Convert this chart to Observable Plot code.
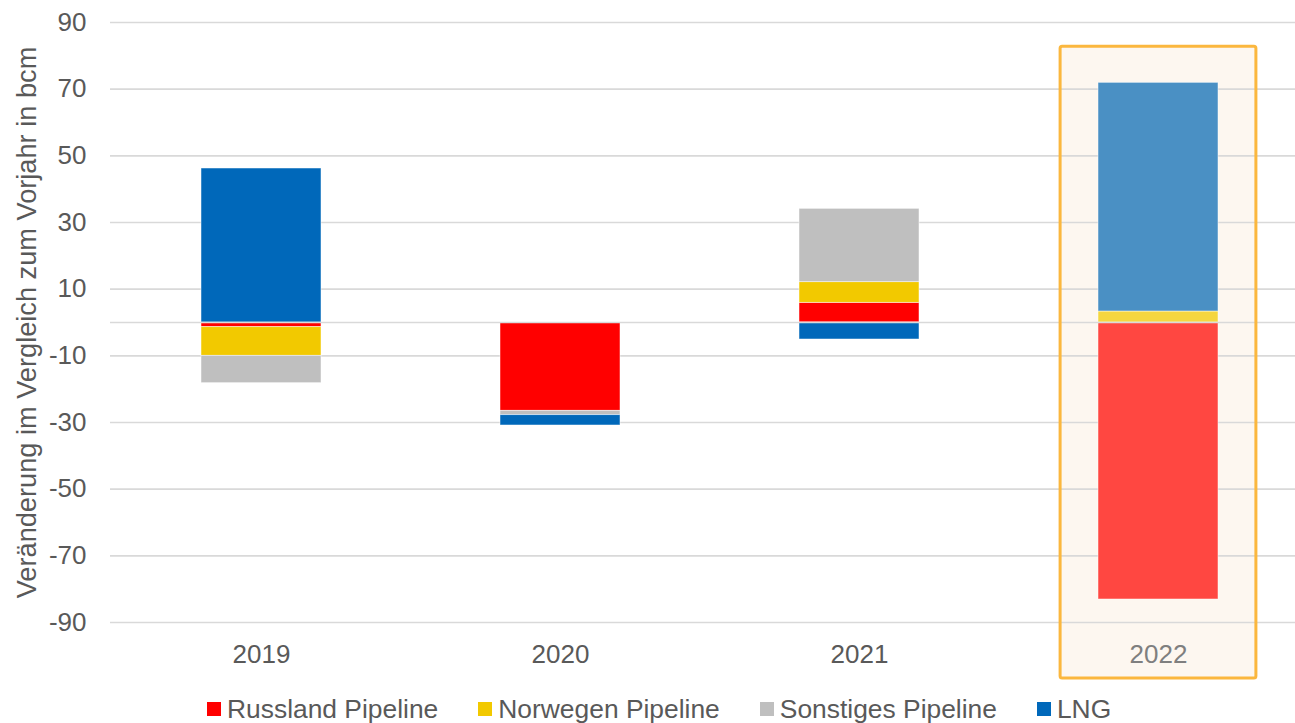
<!DOCTYPE html>
<html>
<head>
<meta charset="utf-8">
<script src="https://cdn.jsdelivr.net/npm/d3@7"></script>
<script src="https://cdn.jsdelivr.net/npm/@observablehq/plot@0.6"></script>
<style>
  html, body { margin: 0; padding: 0; background: #ffffff; overflow: hidden; }
  #chart { position: relative; width: 1295px; height: 723px; font-family: "Liberation Sans", Arial, sans-serif; }
  #legend { position: absolute; left: 207px; top: 694px; display: flex; align-items: center; height: 30px;
            font-size: 26.4px; color: #595959; white-space: nowrap; }
  #legend .item { display: flex; align-items: center; margin-right: 40px; }
  #legend .sw { width: 14px; height: 14px; margin-right: 6px; }
</style>
</head>
<body>
<div id="chart"></div>
<script>
// Year-on-year change of gas imports by source, in bcm
const years = ["2019", "2020", "2021", "2022"];
const seriesNames = ["Russland Pipeline", "Norwegen Pipeline", "Sonstiges Pipeline", "LNG"];
const russland = [-1.4, -26.5, 5.9, -83.1];
const norwegen = [-8.6, 0, 6.2, 3.3];
const sonstiges = [-8.2, -1.3, 22.0, 0];
const lng = [46.2, -3.1, -5.1, 68.6];
const yTicks = [90, 70, 50, 30, 10, -10, -30, -50, -70, -90];
const highlightYear = "2022";

const baseColors = ["#FF0000", "#F2C900", "#BFBFBF", "#0068BA"];
const lightColors = ["#FF4741", "#F5D63F", "#D9D9D9", "#4A90C4"];

const valuesBySeries = [russland, norwegen, sonstiges, lng];
const rows = [];
seriesNames.forEach((s, i) => {
  years.forEach((y, j) => {
    rows.push({year: y, series: s, value: valuesBySeries[i][j], si: i});
  });
});

const textColor = "#595959";
const gridColor = "#D9D9D9";

const plot = Plot.plot({
  width: 1295,
  height: 690,
  marginLeft: 110,
  marginRight: 0,
  marginTop: 22,
  marginBottom: 68,
  style: {fontSize: "26px", fontFamily: "'Liberation Sans', Arial, sans-serif", color: textColor, background: "white"},
  x: {type: "band", domain: years, range: [110, 1308], paddingInner: 0.6, paddingOuter: 0.3, align: 0.5},
  y: {domain: [-90, 90], range: [622, 22]},
  color: {type: "identity"},
  marks: [
    // highlight panel behind the latest year
    Plot.barY([{year: highlightYear}], {x: "year", y1: 82.7, y2: -106.8, insetLeft: -37.9, insetRight: -37.9, fill: "#FDF7F0"}),
    Plot.gridY(yTicks, {stroke: gridColor, strokeOpacity: 1, strokeWidth: 1.6}),
    Plot.barY(rows, Plot.stackY({
      x: "year",
      y: "value",
      z: "series",
      fill: d => (d.year === highlightYear ? lightColors : baseColors)[d.si],
      stroke: "white",
      strokeOpacity: 0.6,
      strokeWidth: 0.8
    })),
    Plot.ruleY([0], {stroke: gridColor, strokeWidth: 1.6}),
    Plot.barY([{year: highlightYear}], {x: "year", y1: 82.7, y2: -106.8, insetLeft: -37.9, insetRight: -37.9,
      fill: "none", stroke: "#FBB73E", strokeWidth: 3, rx: 2}),
    Plot.axisY(yTicks, {tickSize: 0, tickPadding: 24, fill: textColor, label: null, tickFormat: d => String(d)}),
    Plot.axisX(years.filter(y => y !== highlightYear), {tickSize: 0, tickPadding: 22, fill: textColor, label: null}),
    Plot.axisX([highlightYear], {tickSize: 0, tickPadding: 22, fill: "#7F7F7F", label: null}),
    Plot.text(["Veränderung im Vergleich zum Vorjahr in bcm"], {frameAnchor: "left", dx: -83, rotate: -90,
      textAnchor: "middle", fontSize: 27.2, fill: textColor})
  ]
});

const chart = document.getElementById("chart");
chart.appendChild(plot);

const legend = document.createElement("div");
legend.id = "legend";
seriesNames.forEach((s, i) => {
  const item = document.createElement("div");
  item.className = "item";
  const sw = document.createElement("span");
  sw.className = "sw";
  sw.style.background = baseColors[i];
  const label = document.createElement("span");
  label.textContent = s;
  item.appendChild(sw);
  item.appendChild(label);
  legend.appendChild(item);
});
chart.appendChild(legend);
</script>
</body>
</html>
